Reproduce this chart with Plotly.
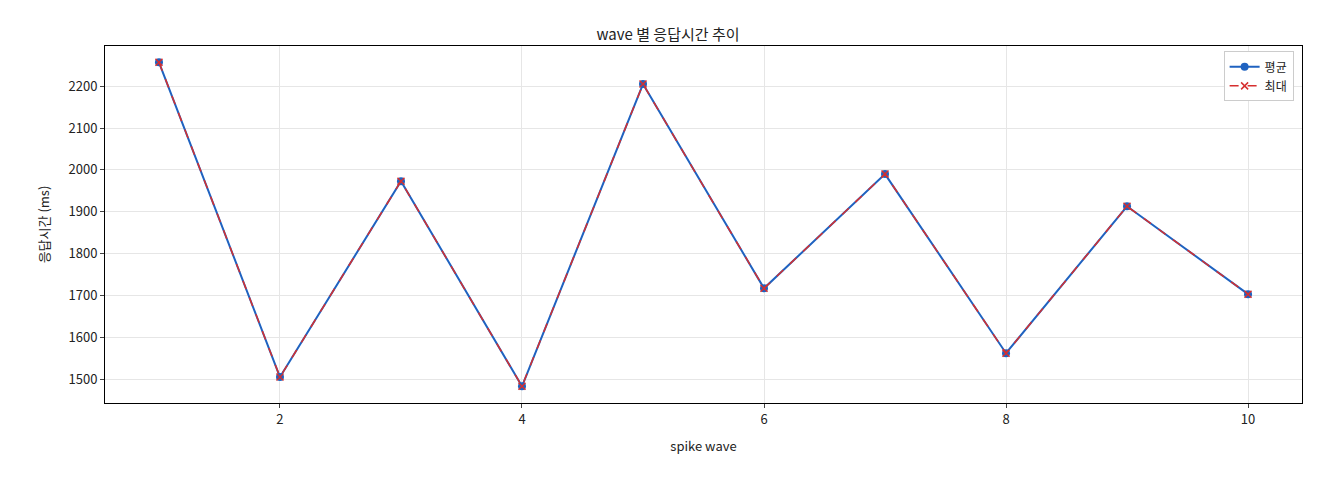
import plotly.graph_objects as go

waves = [1, 2, 3, 4, 5, 6, 7, 8, 9, 10]
avg_ms = [2257, 1505, 1973, 1483, 2205, 1717, 1990, 1562, 1913, 1703]
max_ms = [2257, 1505, 1973, 1483, 2205, 1717, 1990, 1562, 1913, 1703]

font = "Noto Sans CJK KR"

fig = go.Figure()
fig.add_trace(go.Scatter(x=waves, y=avg_ms, name="평균", mode="lines+markers",
                         line=dict(color="#1f62c0", width=2),
                         marker=dict(symbol="circle", size=8, color="#1f62c0")))
fig.add_trace(go.Scatter(x=waves, y=max_ms, name="최대", mode="lines+markers",
                         line=dict(color="#d62f2f", width=1.5, dash="dash"),
                         marker=dict(symbol="x-thin", size=7, color="#d62f2f",
                                     line=dict(color="#d62f2f", width=1.5))))

axis = dict(showline=True, linecolor="black", mirror=True, ticks="outside",
            ticklen=4, gridcolor="#e6e6e6", zeroline=False,
            tickfont=dict(size=13, color="#222"))
fig.update_layout(
    width=1320, height=480, plot_bgcolor="white", paper_bgcolor="white",
    font=dict(family=font, color="#222"),
    title=dict(text="wave 별 응답시간 추이", x=0.5, y=0.955, xanchor="center",
               font=dict(size=15)),
    margin=dict(l=97, r=26, t=38, b=85),
    xaxis=dict(axis, range=[0.554, 10.446], tickvals=[2, 4, 6, 8, 10],
               title=dict(text="spike wave", font=dict(size=13))),
    yaxis=dict(axis, range=[1443, 2296], dtick=100,
               title=dict(text="응답시간 (ms)", font=dict(size=13))),
    legend=dict(x=0.993, y=0.985, xanchor="right", yanchor="top",
                bordercolor="#ccc", borderwidth=1, font=dict(size=12)),
)
fig.write_html("out.html")
